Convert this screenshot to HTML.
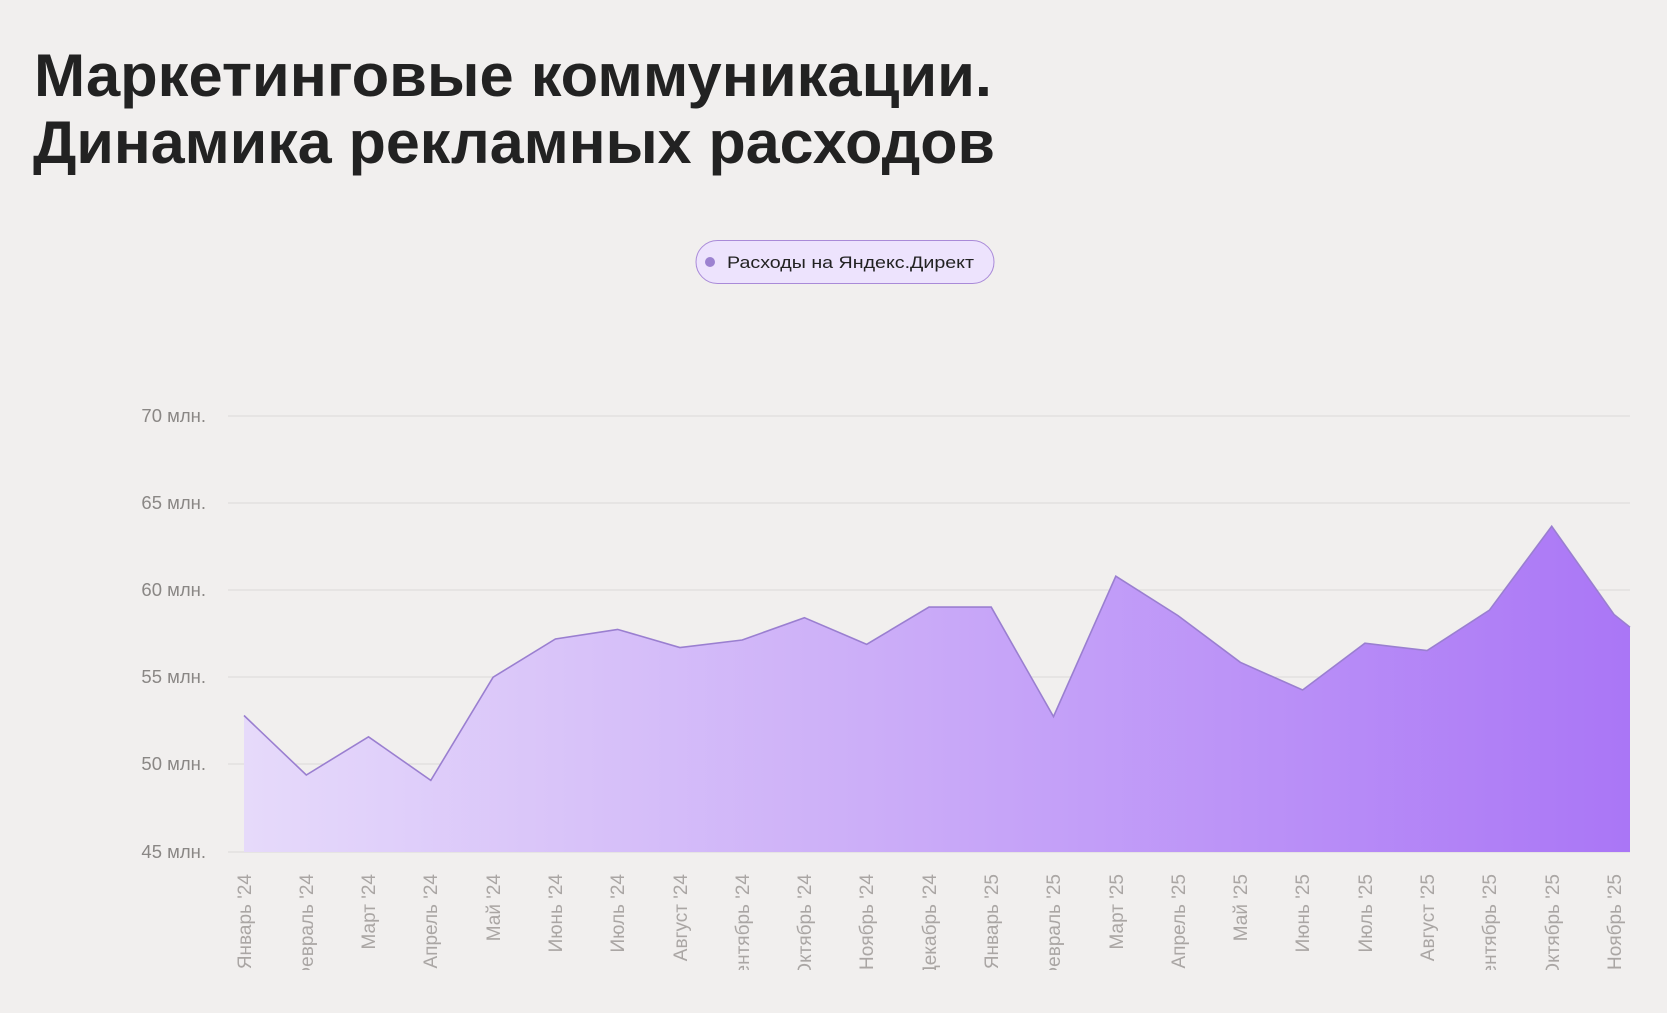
<!DOCTYPE html>
<html><head><meta charset="utf-8"><style>
html,body{margin:0;padding:0;background:#f1efee;}
svg{display:block;font-family:"Liberation Sans","DejaVu Sans",sans-serif;}
</style></head><body>
<svg width="1667" height="1013" viewBox="0 0 1667 1013" xmlns="http://www.w3.org/2000/svg">
<defs>
<linearGradient id="g" x1="244" y1="0" x2="1630" y2="0" gradientUnits="userSpaceOnUse">
<stop offset="0" stop-color="#e6dafa"/>
<stop offset="0.5" stop-color="#c9a9f8"/>
<stop offset="1" stop-color="#aa76f6"/>
</linearGradient>
<clipPath id="xc"><rect x="0" y="860" width="1667" height="110"/></clipPath>
</defs>
<rect width="1667" height="1013" fill="#f1efee"/>
<text x="34" y="96" font-size="60" font-weight="bold" fill="#222" textLength="958" lengthAdjust="spacingAndGlyphs">Маркетинговые коммуникации.</text>
<text x="33" y="163" font-size="60" font-weight="bold" fill="#222" textLength="962" lengthAdjust="spacingAndGlyphs">Динамика рекламных расходов</text>
<rect x="696" y="240.5" width="298" height="43" rx="21.5" fill="#ede3fd" stroke="#a98ad8" stroke-width="1"/>
<circle cx="710" cy="262" r="5" fill="#9c82d0"/>
<text x="727" y="268" font-size="17" fill="#222" textLength="247" lengthAdjust="spacingAndGlyphs">Расходы на Яндекс.Директ</text>
<g stroke="#dcd9d8" stroke-width="1">
<line x1="228" y1="416" x2="1630" y2="416"/><line x1="228" y1="503" x2="1630" y2="503"/>
<line x1="228" y1="590" x2="1630" y2="590"/><line x1="228" y1="677" x2="1630" y2="677"/>
<line x1="228" y1="764" x2="1630" y2="764"/><line x1="228" y1="852" x2="1630" y2="852"/>
</g>
<g font-size="18.5" fill="#8a8785" text-anchor="end">
<text x="206" y="422">70 млн.</text><text x="206" y="509">65 млн.</text>
<text x="206" y="596">60 млн.</text><text x="206" y="683">55 млн.</text>
<text x="206" y="770">50 млн.</text><text x="206" y="858">45 млн.</text>
</g>
<path d="M244,715.5 L306.3,775 L368.5,736.8 L430.8,780.4 L493.1,677.2 L555.4,639 L617.6,629.4 L679.9,647.5 L742.2,640 L804.4,617.7 L866.7,644.3 L929,607.1 L991.2,607.1 L1053.5,716.6 L1115.8,576.2 L1178,615.6 L1240.3,662.3 L1302.6,690 L1364.9,643.2 L1427.1,650.6 L1489.4,610.2 L1551.7,526.3 L1614,614.5 L1630,627.3 L1630,852 L244,852 Z" fill="url(#g)"/>
<path d="M244,715.5 L306.3,775 L368.5,736.8 L430.8,780.4 L493.1,677.2 L555.4,639 L617.6,629.4 L679.9,647.5 L742.2,640 L804.4,617.7 L866.7,644.3 L929,607.1 L991.2,607.1 L1053.5,716.6 L1115.8,576.2 L1178,615.6 L1240.3,662.3 L1302.6,690 L1364.9,643.2 L1427.1,650.6 L1489.4,610.2 L1551.7,526.3 L1614,614.5 L1630,627.3" fill="none" stroke="#9a7fd0" stroke-width="1.6"/>
<g font-size="19" fill="#aaa6a4" text-anchor="end" clip-path="url(#xc)">
<text transform="translate(251,874) rotate(-90)">Январь '24</text>
<text transform="translate(313,874) rotate(-90)">Февраль '24</text>
<text transform="translate(375,874) rotate(-90)">Март '24</text>
<text transform="translate(437,874) rotate(-90)">Апрель '24</text>
<text transform="translate(500,874) rotate(-90)">Май '24</text>
<text transform="translate(562,874) rotate(-90)">Июнь '24</text>
<text transform="translate(624,874) rotate(-90)">Июль '24</text>
<text transform="translate(687,874) rotate(-90)">Август '24</text>
<text transform="translate(749,874) rotate(-90)">Сентябрь '24</text>
<text transform="translate(811,874) rotate(-90)">Октябрь '24</text>
<text transform="translate(873,874) rotate(-90)">Ноябрь '24</text>
<text transform="translate(936,874) rotate(-90)">Декабрь '24</text>
<text transform="translate(998,874) rotate(-90)">Январь '25</text>
<text transform="translate(1060,874) rotate(-90)">Февраль '25</text>
<text transform="translate(1123,874) rotate(-90)">Март '25</text>
<text transform="translate(1185,874) rotate(-90)">Апрель '25</text>
<text transform="translate(1247,874) rotate(-90)">Май '25</text>
<text transform="translate(1309,874) rotate(-90)">Июнь '25</text>
<text transform="translate(1372,874) rotate(-90)">Июль '25</text>
<text transform="translate(1434,874) rotate(-90)">Август '25</text>
<text transform="translate(1496,874) rotate(-90)">Сентябрь '25</text>
<text transform="translate(1559,874) rotate(-90)">Октябрь '25</text>
<text transform="translate(1621,874) rotate(-90)">Ноябрь '25</text>
</g>
</svg>
</body></html>
